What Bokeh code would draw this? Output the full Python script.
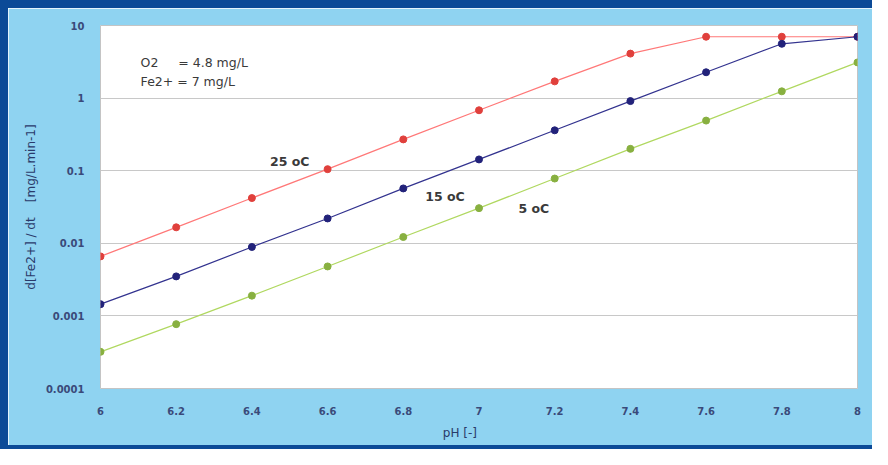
from bokeh.plotting import figure
from bokeh.models import Range1d, FixedTicker, Label, Spacer
from bokeh.layouts import column, row
from bokeh.embed import file_html
from bokeh.resources import INLINE

ph = [6.0, 6.2, 6.4, 6.6, 6.8, 7.0, 7.2, 7.4, 7.6, 7.8, 8.0]
rate_25 = [0.0066, 0.0166, 0.042, 0.105, 0.27, 0.68, 1.7, 4.1, 7.0, 7.0, 7.0]
rate_15 = [0.00145, 0.0035, 0.0089, 0.022, 0.057, 0.143, 0.36, 0.91, 2.27, 5.6, 7.0]
rate_5 = [0.00032, 0.00077, 0.0019, 0.0048, 0.0122, 0.0305, 0.078, 0.2, 0.49, 1.24, 3.1]

y_ticks = [0.0001, 0.001, 0.01, 0.1, 1, 10]
y_tick_labels = ["0.0001", "0.001", "0.01", "0.1", "1", "10"]
x_ticks = [6.0, 6.2, 6.4, 6.6, 6.8, 7.0, 7.2, 7.4, 7.6, 7.8, 8.0]
x_tick_labels = ["6", "6.2", "6.4", "6.6", "6.8", "7", "7.2", "7.4", "7.6", "7.8", "8"]

LIGHT = "#8fd3f1"
DARK = "#0b4a97"
FONT = "DejaVu Sans"
NB = "\u00a0"

p = figure(width=864, height=437, output_backend="svg", toolbar_location=None,
           y_axis_type="log", x_range=Range1d(6, 8), y_range=Range1d(0.0001, 10),
           min_border_left=92, min_border_right=15, min_border_top=17, min_border_bottom=57)
p.border_fill_color = LIGHT
p.background_fill_color = "white"
p.outline_line_color = "#c4c4c4"
p.xgrid.grid_line_color = None
p.ygrid.grid_line_color = "#c8c8c8"
p.ygrid.minor_grid_line_color = None

p.yaxis.ticker = FixedTicker(ticks=y_ticks, minor_ticks=[])
p.yaxis.major_label_overrides = {t: l for t, l in zip(y_ticks, y_tick_labels)}
p.xaxis.ticker = FixedTicker(ticks=x_ticks, minor_ticks=[])
p.xaxis.major_label_overrides = {t: l for t, l in zip(x_ticks, x_tick_labels)}

for ax in (p.xaxis, p.yaxis):
    ax.axis_line_color = None
    ax.major_tick_line_color = None
    ax.minor_tick_line_color = None
    ax.major_label_text_font = FONT
    ax.major_label_text_font_size = "10px"
    ax.major_label_text_font_style = "bold"
    ax.major_label_text_color = "#3a4a7a"
    ax.axis_label_text_font = FONT
    ax.axis_label_text_font_size = "12px"
    ax.axis_label_text_font_style = "normal"
    ax.axis_label_text_color = "#2a3a6a"

p.yaxis.major_label_standoff = 10
p.yaxis.axis_label = "d[Fe2+] / dt" + NB * 4 + "[mg/L.min-1]"
p.yaxis.axis_label_standoff = 5
p.xaxis.major_label_standoff = 12
# trailing non-breaking spaces shift the centred title slightly left, as in the original
p.xaxis.axis_label = "pH [-]" + NB * 10
p.xaxis.axis_label_standoff = 8

series = [
    (rate_25, "#ff7878", "#e0403c"),
    (rate_15, "#33338f", "#22227a"),
    (rate_5, "#b0d860", "#88b040"),
]
for vals, lc, mc in series:
    p.line(ph, vals, line_color=lc, line_width=1.2)
    p.scatter(ph, vals, size=7, fill_color=mc, line_color=mc)

notes = [
    (6.106, 3.1, "O2" + NB * 5 + "= 4.8 mg/L", "normal", "left"),
    (6.106, 1.71, "Fe2+ = 7 mg/L", "normal", "left"),
    (6.50, 0.133, "25 oC", "bold", "center"),
    (6.91, 0.044, "15 oC", "bold", "center"),
    (7.145, 0.030, "5 oC", "bold", "center"),
]
for x, y, t, st, al in notes:
    p.add_layout(Label(x=x, y=y, text=t, text_font=FONT, text_font_size="12.5px",
                       text_font_style=st, text_color="#3a3a3a",
                       text_align=al, text_baseline="middle"))

dark = {"background-color": DARK}
top_band = Spacer(width=872, height=8, styles=dark)
left_band = Spacer(width=8, height=437, styles=dark)
bottom_band = Spacer(width=872, height=4, styles=dark)
layout = column(top_band, row(left_band, p), bottom_band)

open("out.html", "w").write(file_html(layout, INLINE))
